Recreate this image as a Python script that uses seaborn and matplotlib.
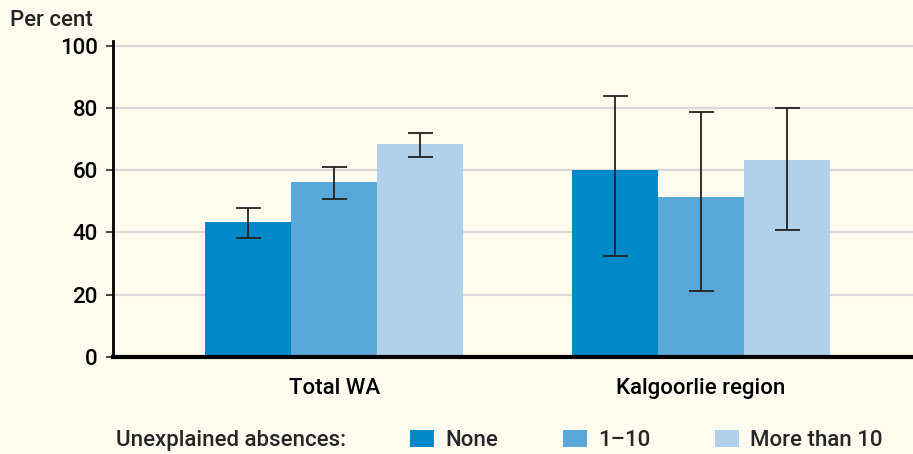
import matplotlib
matplotlib.use("Agg")
from matplotlib import pyplot as plt
import seaborn as sns
import pandas as pd

regions = ["Total WA", "Kalgoorlie region"]
absences = ["None", "1\u201310", "More than 10"]
values = {
    "Total WA": [43.4, 56.3, 68.5],
    "Kalgoorlie region": [60.1, 51.4, 63.3],
}
lower = {
    "Total WA": [38.3, 50.8, 64.3],
    "Kalgoorlie region": [32.5, 21.2, 40.8],
}
upper = {
    "Total WA": [47.9, 61.1, 72.0],
    "Kalgoorlie region": [83.9, 78.8, 80.1],
}
colours = ["#0088C9", "#5AA8D8", "#B1D0EA"]
bg = "#FEFCEE"

rows = []
for r in regions:
    for i, a in enumerate(absences):
        rows.append({"region": r, "absences": a, "value": values[r][i],
                     "lo": lower[r][i], "hi": upper[r][i]})
df = pd.DataFrame(rows)

sns.set_style("white")
plt.rcParams["font.family"] = ["Roboto", "DejaVu Sans"]
plt.rcParams["font.weight"] = 500
fs = 16

fig = plt.figure(figsize=(9.13, 4.54), dpi=100, facecolor=bg)
ax = fig.add_axes([0.124, 0.2137, 0.876, 0.696])
ax.set_facecolor(bg)

sns.barplot(data=df, x="region", y="value", hue="absences", order=regions,
            hue_order=absences, palette=colours, width=0.703, saturation=1,
            errorbar=None, linewidth=0, ax=ax, zorder=2)

# error bars centred on each drawn bar
bars = [p for p in ax.patches if p.get_height() > 0]
bars = sorted(bars, key=lambda p: p.get_x())
order = [(r, a) for r in regions for a in absences]
for p, (r, a) in zip(bars, order):
    row = df[(df.region == r) & (df.absences == a)].iloc[0]
    xc = p.get_x() + p.get_width() / 2
    ax.errorbar(xc, row.value, yerr=[[row.value - row.lo], [row.hi - row.value]],
                fmt="none", ecolor="#222222", elinewidth=1.3, capsize=9,
                capthick=1.3, zorder=3)

ax.set_xlim(-0.602, 1.578)
ax.set_ylim(0, 101.5)
ax.set_yticks([0, 20, 40, 60, 80, 100])
ax.yaxis.grid(True, color="#D8D8D8", linewidth=1.6, zorder=0)
ax.set_axisbelow(True)
for s in ["top", "right"]:
    ax.spines[s].set_visible(False)
ax.spines["left"].set_linewidth(2)
ax.spines["bottom"].set_linewidth(3)
ax.spines["left"].set_color("black")
ax.spines["bottom"].set_color("black")
ax.tick_params(axis="y", length=5, width=1.2, direction="out", labelsize=fs,
               left=True, pad=6, labelcolor="black")
ax.tick_params(axis="x", length=0, labelsize=fs, pad=15, labelcolor="black")
ax.set_xlabel("")
ax.set_ylabel("")
fig.text(0.011, 0.955, "Per cent", fontsize=fs, ha="left", va="center")

handles, labels = ax.get_legend_handles_labels()
ax.get_legend().remove()
fig.text(0.127, 0.03, "Unexplained absences:", fontsize=fs, ha="left", va="center")
fig.legend(handles, labels, loc="center left", bbox_to_anchor=(0.449, 0.03), ncol=3,
           frameon=False, fontsize=fs, handlelength=1.1, handleheight=0.8,
           columnspacing=2.9, handletextpad=0.5, borderaxespad=0, borderpad=0)

fig.savefig("out.png", dpi=100, facecolor=bg)
